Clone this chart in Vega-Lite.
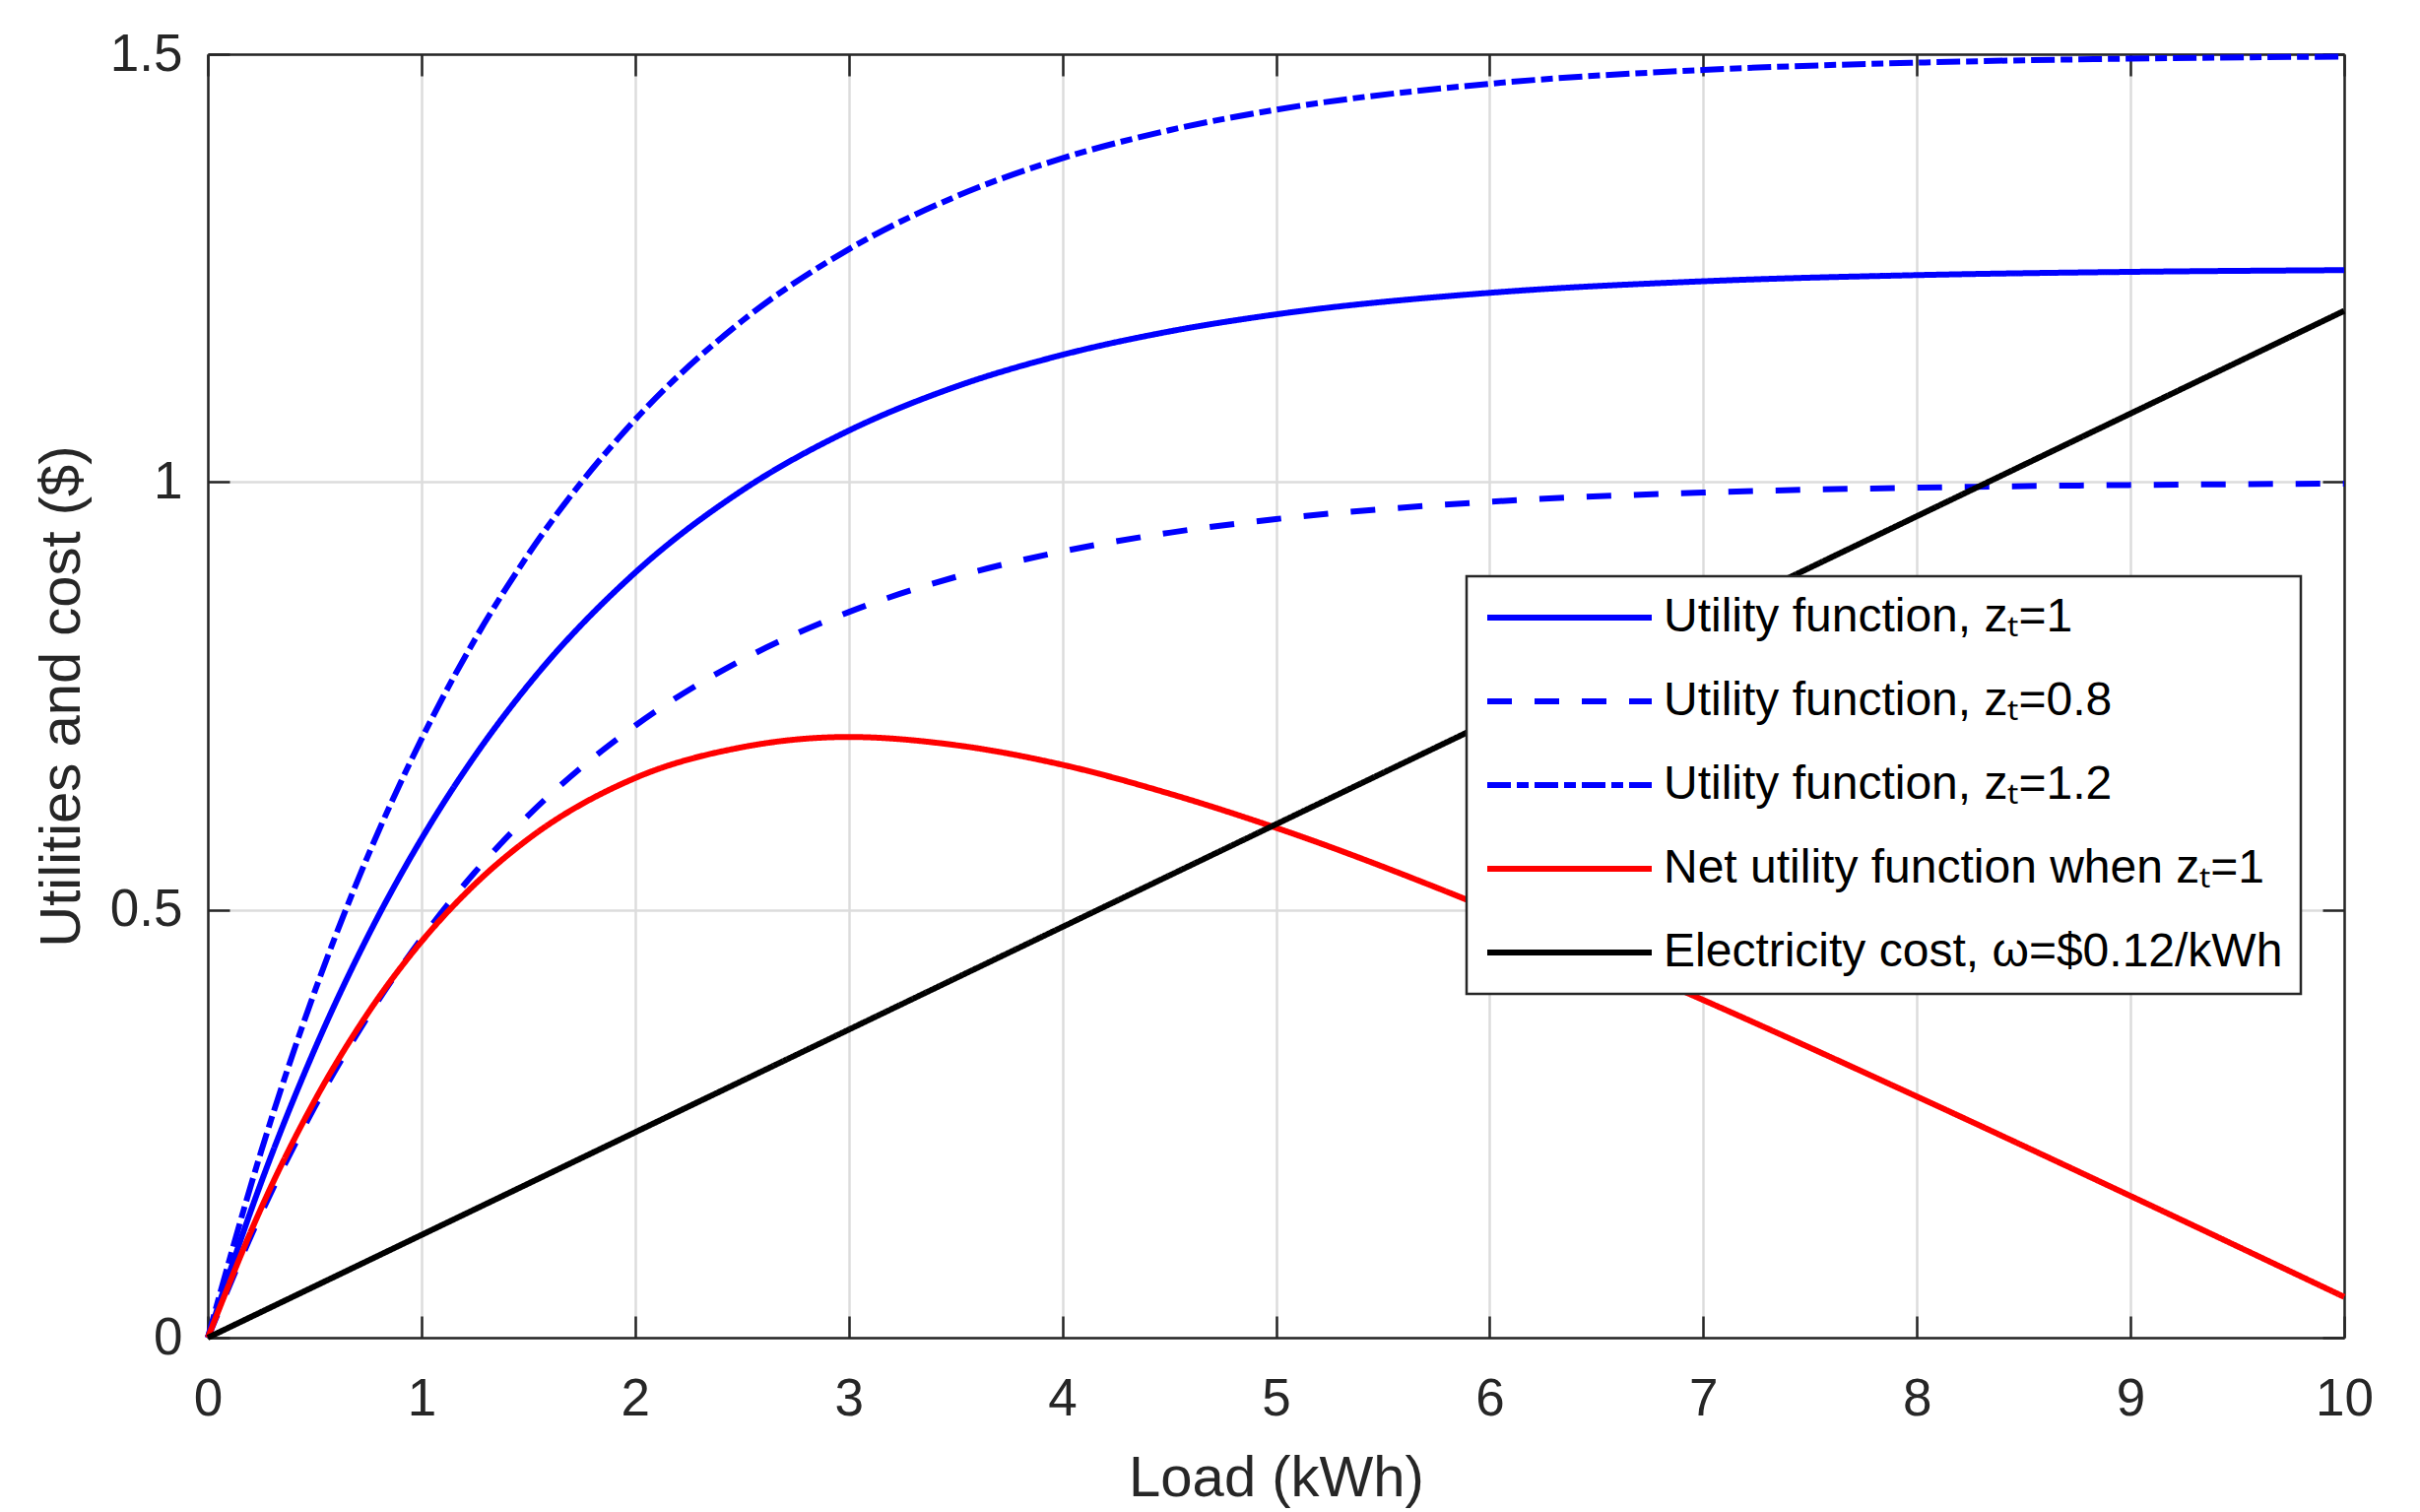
{
  "$schema": "https://vega.github.io/schema/vega-lite/v6.json",
  "autosize": "none",
  "padding": {"left": 211, "top": 55, "right": 77, "bottom": 177},
  "width": 2169,
  "height": 1303,
  "background": "white",
  "data": {
    "values": [
      {"load": 0, "value": 0, "series": "Utility function, zₜ=1"},
      {"load": 0.25, "value": 0.1816, "series": "Utility function, zₜ=1"},
      {"load": 0.5, "value": 0.3369, "series": "Utility function, zₜ=1"},
      {"load": 0.75, "value": 0.4695, "series": "Utility function, zₜ=1"},
      {"load": 1, "value": 0.5829, "series": "Utility function, zₜ=1"},
      {"load": 1.25, "value": 0.6799, "series": "Utility function, zₜ=1"},
      {"load": 1.5, "value": 0.7628, "series": "Utility function, zₜ=1"},
      {"load": 2, "value": 0.894, "series": "Utility function, zₜ=1"},
      {"load": 2.5, "value": 0.99, "series": "Utility function, zₜ=1"},
      {"load": 3, "value": 1.06, "series": "Utility function, zₜ=1"},
      {"load": 3.5, "value": 1.1113, "series": "Utility function, zₜ=1"},
      {"load": 4, "value": 1.1486, "series": "Utility function, zₜ=1"},
      {"load": 4.5, "value": 1.1759, "series": "Utility function, zₜ=1"},
      {"load": 5, "value": 1.1959, "series": "Utility function, zₜ=1"},
      {"load": 6, "value": 1.2211, "series": "Utility function, zₜ=1"},
      {"load": 7, "value": 1.2346, "series": "Utility function, zₜ=1"},
      {"load": 8, "value": 1.2418, "series": "Utility function, zₜ=1"},
      {"load": 9, "value": 1.2456, "series": "Utility function, zₜ=1"},
      {"load": 10, "value": 1.2476, "series": "Utility function, zₜ=1"},

      {"load": 0, "value": 0, "series": "Utility function, zₜ=0.8"},
      {"load": 0.25, "value": 0.1453, "series": "Utility function, zₜ=0.8"},
      {"load": 0.5, "value": 0.2695, "series": "Utility function, zₜ=0.8"},
      {"load": 0.75, "value": 0.3756, "series": "Utility function, zₜ=0.8"},
      {"load": 1, "value": 0.4663, "series": "Utility function, zₜ=0.8"},
      {"load": 1.25, "value": 0.5439, "series": "Utility function, zₜ=0.8"},
      {"load": 1.5, "value": 0.6102, "series": "Utility function, zₜ=0.8"},
      {"load": 2, "value": 0.7152, "series": "Utility function, zₜ=0.8"},
      {"load": 2.5, "value": 0.792, "series": "Utility function, zₜ=0.8"},
      {"load": 3, "value": 0.848, "series": "Utility function, zₜ=0.8"},
      {"load": 3.5, "value": 0.889, "series": "Utility function, zₜ=0.8"},
      {"load": 4, "value": 0.9189, "series": "Utility function, zₜ=0.8"},
      {"load": 4.5, "value": 0.9407, "series": "Utility function, zₜ=0.8"},
      {"load": 5, "value": 0.9567, "series": "Utility function, zₜ=0.8"},
      {"load": 6, "value": 0.9769, "series": "Utility function, zₜ=0.8"},
      {"load": 7, "value": 0.9877, "series": "Utility function, zₜ=0.8"},
      {"load": 8, "value": 0.9934, "series": "Utility function, zₜ=0.8"},
      {"load": 9, "value": 0.9965, "series": "Utility function, zₜ=0.8"},
      {"load": 10, "value": 0.9981, "series": "Utility function, zₜ=0.8"},

      {"load": 0, "value": 0, "series": "Utility function, zₜ=1.2"},
      {"load": 0.25, "value": 0.218, "series": "Utility function, zₜ=1.2"},
      {"load": 0.5, "value": 0.4043, "series": "Utility function, zₜ=1.2"},
      {"load": 0.75, "value": 0.5634, "series": "Utility function, zₜ=1.2"},
      {"load": 1, "value": 0.6995, "series": "Utility function, zₜ=1.2"},
      {"load": 1.25, "value": 0.8159, "series": "Utility function, zₜ=1.2"},
      {"load": 1.5, "value": 0.9153, "series": "Utility function, zₜ=1.2"},
      {"load": 2, "value": 1.0728, "series": "Utility function, zₜ=1.2"},
      {"load": 2.5, "value": 1.188, "series": "Utility function, zₜ=1.2"},
      {"load": 3, "value": 1.272, "series": "Utility function, zₜ=1.2"},
      {"load": 3.5, "value": 1.3335, "series": "Utility function, zₜ=1.2"},
      {"load": 4, "value": 1.3784, "series": "Utility function, zₜ=1.2"},
      {"load": 4.5, "value": 1.4111, "series": "Utility function, zₜ=1.2"},
      {"load": 5, "value": 1.4351, "series": "Utility function, zₜ=1.2"},
      {"load": 6, "value": 1.4654, "series": "Utility function, zₜ=1.2"},
      {"load": 7, "value": 1.4816, "series": "Utility function, zₜ=1.2"},
      {"load": 8, "value": 1.4901, "series": "Utility function, zₜ=1.2"},
      {"load": 9, "value": 1.4948, "series": "Utility function, zₜ=1.2"},
      {"load": 10, "value": 1.4972, "series": "Utility function, zₜ=1.2"},

      {"load": 0, "value": 0, "series": "Net utility function when zₜ=1"},
      {"load": 0.25, "value": 0.1516, "series": "Net utility function when zₜ=1"},
      {"load": 0.5, "value": 0.2769, "series": "Net utility function when zₜ=1"},
      {"load": 0.75, "value": 0.3795, "series": "Net utility function when zₜ=1"},
      {"load": 1, "value": 0.4629, "series": "Net utility function when zₜ=1"},
      {"load": 1.25, "value": 0.5299, "series": "Net utility function when zₜ=1"},
      {"load": 1.5, "value": 0.5828, "series": "Net utility function when zₜ=1"},
      {"load": 2, "value": 0.654, "series": "Net utility function when zₜ=1"},
      {"load": 2.5, "value": 0.69, "series": "Net utility function when zₜ=1"},
      {"load": 3, "value": 0.702, "series": "Net utility function when zₜ=1"},
      {"load": 3.5, "value": 0.6925, "series": "Net utility function when zₜ=1"},
      {"load": 4, "value": 0.6695, "series": "Net utility function when zₜ=1"},
      {"load": 4.5, "value": 0.6359, "series": "Net utility function when zₜ=1"},
      {"load": 5, "value": 0.5959, "series": "Net utility function when zₜ=1"},
      {"load": 6, "value": 0.5011, "series": "Net utility function when zₜ=1"},
      {"load": 7, "value": 0.3946, "series": "Net utility function when zₜ=1"},
      {"load": 8, "value": 0.2818, "series": "Net utility function when zₜ=1"},
      {"load": 9, "value": 0.1656, "series": "Net utility function when zₜ=1"},
      {"load": 10, "value": 0.0476, "series": "Net utility function when zₜ=1"},

      {"load": 0, "value": 0, "series": "Electricity cost, ω=$0.12/kWh"},
      {"load": 5, "value": 0.6, "series": "Electricity cost, ω=$0.12/kWh"},
      {"load": 10, "value": 1.2, "series": "Electricity cost, ω=$0.12/kWh"}
    ]
  },
  "layer": [
    {
      "mark": {"type": "line", "strokeWidth": 6, "interpolate": "monotone"},
      "encoding": {
        "x": {
          "field": "load", "type": "quantitative",
          "scale": {"domain": [0, 10], "nice": false},
          "axis": {"values": [0, 1, 2, 3, 4, 5, 6, 7, 8, 9, 10], "format": "d", "title": "Load (kWh)",
                   "labelPadding": 58, "titleY": 160, "titleBaseline": "alphabetic", "labelFlush": false}
        },
        "y": {
          "field": "value", "type": "quantitative",
          "scale": {"domain": [0, 1.5], "nice": false},
          "axis": {"values": [0, 0.5, 1, 1.5], "format": "~g", "title": "Utilities and cost ($)",
                   "labelPadding": 48, "titleX": -131, "titleY": 651.5, "titleBaseline": "alphabetic", "labelFlush": false}
        },
        "color": {
          "field": "series", "type": "nominal",
          "scale": {
            "domain": ["Utility function, zₜ=1", "Utility function, zₜ=0.8", "Utility function, zₜ=1.2", "Net utility function when zₜ=1", "Electricity cost, ω=$0.12/kWh"],
            "range": ["#0000ff", "#0000ff", "#0000ff", "#ff0000", "#000000"]
          },
          "legend": {"title": null, "orient": "none", "legendX": 1278, "legendY": 530}
        },
        "strokeDash": {
          "field": "series", "type": "nominal",
          "scale": {
            "domain": ["Utility function, zₜ=1", "Utility function, zₜ=0.8", "Utility function, zₜ=1.2", "Net utility function when zₜ=1", "Electricity cost, ω=$0.12/kWh"],
            "range": [[1, 0], [25, 23], [24, 6, 12, 6], [1, 0], [1, 0]]
          },
          "legend": {"title": null, "orient": "none", "legendX": 1278, "legendY": 530}
        }
      }
    },
    {
      "mark": {"type": "point", "opacity": 0},
      "encoding": {
        "x": {
          "field": "load", "type": "quantitative",
          "axis": {"orient": "top", "values": [0, 1, 2, 3, 4, 5, 6, 7, 8, 9, 10], "labels": false, "grid": false, "title": null}
        },
        "y": {
          "field": "value", "type": "quantitative",
          "axis": {"orient": "right", "values": [0, 0.5, 1, 1.5], "labels": false, "grid": false, "title": null}
        }
      }
    }
  ],
  "resolve": {"axis": {"x": "independent", "y": "independent"}},
  "config": {
    "view": {"stroke": null},
    "font": "Liberation Sans",
    "axis": {
      "domainColor": "#262626", "domainWidth": 2.5,
      "tickColor": "#262626", "tickWidth": 2.5, "tickSize": -22,
      "labelFont": "Liberation Sans", "labelFontSize": 53, "labelColor": "#262626",
      "titleFont": "Liberation Sans", "titleFontSize": 58, "titleColor": "#262626", "titleFontWeight": "normal",
      "gridColor": "#dcdcdc", "gridWidth": 2.5,
      "labelOverlap": false, "labelBound": false
    },
    "legend": {
      "strokeColor": "#262626", "fillColor": "white", "padding": 18, "strokeWidth": 2.5,
      "symbolType": "stroke", "symbolSize": 27889, "symbolStrokeWidth": 6,
      "labelFont": "Liberation Sans", "labelFontSize": 48, "labelColor": "#000000",
      "labelLimit": 1200, "labelOffset": 9, "clipHeight": 48, "rowPadding": 37
    }
  }
}
